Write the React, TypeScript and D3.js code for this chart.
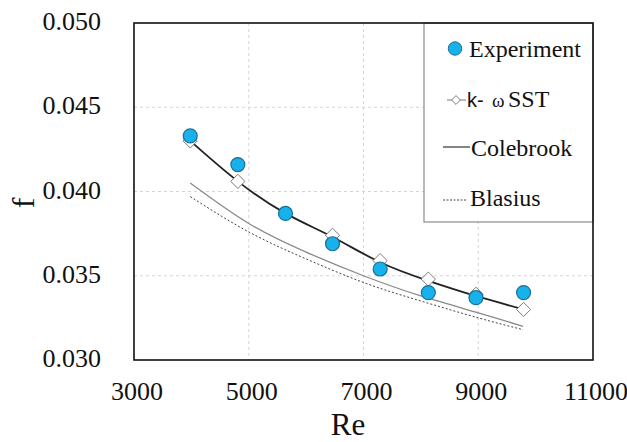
import React from "react";
import * as d3 from "d3";

// Reynolds numbers of the measured / simulated points
const reValues = [3980, 4810, 5640, 6460, 7290, 8130, 8960, 9790];
// Friction factor, experiment
const experiment = [0.0433, 0.0416, 0.0387, 0.0369, 0.0354, 0.034, 0.0337, 0.034];
// Friction factor, k-ω SST simulation
const sst = [0.043, 0.0406, 0.0387, 0.0374, 0.0359, 0.0348, 0.0339, 0.033];
// Smooth trend through the k-ω SST results
const sstFit = [0.043, 0.0406, 0.0387, 0.0373, 0.0358, 0.0347, 0.0338, 0.033];

// Correlations
const corrRe = [3980, 5000, 6000, 7000, 8000, 9000, 9780];
const colebrook = [0.0405, 0.0381, 0.0364, 0.035, 0.0338, 0.0328, 0.032];
const blasius = [0.0397, 0.0376, 0.036, 0.0346, 0.0335, 0.0325, 0.0318];

const xTicks = [3000, 5000, 7000, 9000, 11000];
const yTicks = [0.03, 0.035, 0.04, 0.045, 0.05];

const W = 627;
const H = 442;
const plot = { left: 134, top: 23, right: 593, bottom: 360 };
const serif = "Liberation Serif";
const sans = "Liberation Sans";

export default function App() {
  const x = d3.scaleLinear().domain([3000, 11000]).range([plot.left, plot.right]);
  const y = d3.scaleLinear().domain([0.03, 0.05]).range([plot.bottom, plot.top]);

  const smooth = d3
    .line<[number, number]>()
    .x((d) => x(d[0]))
    .y((d) => y(d[1]))
    .curve(d3.curveNatural);

  const fitPath = smooth(reValues.map((r, i) => [r, sstFit[i]]) as [number, number][]) || "";
  const colePath = smooth(corrRe.map((r, i) => [r, colebrook[i]]) as [number, number][]) || "";
  const blasPath = smooth(corrRe.map((r, i) => [r, blasius[i]]) as [number, number][]) || "";

  const diamond = d3.symbol().type(d3.symbolDiamond2).size(128)() || "";
  const legendDiamond = d3.symbol().type(d3.symbolDiamond2).size(50)() || "";

  const gridColor = "#d4d4d4";
  const circleFill = "#17b1ec";
  const circleStroke = "#1c6f96";

  const legendX = 424;

  return (
    <svg width={W} height={H} style={{ position: "absolute", left: 0, top: 0, background: "#fff" }}>
      <rect x={0} y={0} width={W} height={H} fill="#fff" />

      {/* grid */}
      {xTicks
        .filter((t) => t > 3000 && t < 11000)
        .map((t) => (
          <line
            key={"gx" + t}
            x1={x(t)}
            x2={x(t)}
            y1={plot.top}
            y2={plot.bottom}
            stroke={gridColor}
            strokeWidth={1}
            strokeDasharray="3,3"
          />
        ))}
      {yTicks
        .filter((t) => t > 0.03 && t < 0.05)
        .map((t) => (
          <line
            key={"gy" + t}
            x1={plot.left}
            x2={plot.right}
            y1={y(t)}
            y2={y(t)}
            stroke={gridColor}
            strokeWidth={1}
            strokeDasharray="3,3"
          />
        ))}

      {/* correlations */}
      <path d={colePath} fill="none" stroke="#8a8a8a" strokeWidth={1.3} />
      <path d={blasPath} fill="none" stroke="#444" strokeWidth={1} strokeDasharray="2,2" />

      {/* k-ω SST trend and points */}
      <path d={fitPath} fill="none" stroke="#222" strokeWidth={1.8} />
      {reValues.map((r, i) => (
        <path
          key={"d" + i}
          d={diamond}
          transform={`translate(${x(r)},${y(sst[i])})`}
          fill="#fff"
          stroke="#7a7a7a"
          strokeWidth={1}
        />
      ))}

      {/* experiment */}
      {reValues.map((r, i) => (
        <circle
          key={"c" + i}
          cx={x(r)}
          cy={y(experiment[i])}
          r={7}
          fill={circleFill}
          stroke={circleStroke}
          strokeWidth={1.2}
        />
      ))}

      {/* legend */}
      <rect
        x={legendX}
        y={plot.top}
        width={plot.right - legendX}
        height={222 - plot.top}
        fill="#fff"
        stroke="#8a8a8a"
        strokeWidth={1.2}
      />
      <circle cx={455} cy={48.5} r={6.7} fill={circleFill} stroke={circleStroke} strokeWidth={1} />
      <text x={469} y={57} fontFamily={serif} fontSize={24} fill="#111">
        Experiment
      </text>

      <line x1={447} x2={466} y1={100} y2={100} stroke="#7a7a7a" strokeWidth={1} />
      <path d={legendDiamond} transform="translate(456,100)" fill="#fff" stroke="#7a7a7a" strokeWidth={1} />
      <text y={107} fill="#111">
        <tspan x={467} fontFamily={sans} fontSize={20}>k-</tspan>
        <tspan x={492} fontFamily={serif} fontSize={19}>ω</tspan>
        <tspan x={508} fontFamily={serif} fontSize={24}>SST</tspan>
      </text>

      <line x1={443} x2={470} y1={147} y2={147} stroke="#333" strokeWidth={1.2} />
      <text x={471} y={156} fontFamily={serif} fontSize={24} fill="#111">
        Colebrook
      </text>

      <line x1={443} x2={467} y1={200} y2={200} stroke="#444" strokeWidth={1} strokeDasharray="2,1.5" />
      <text x={470} y={206} fontFamily={serif} fontSize={24} fill="#111">
        Blasius
      </text>

      {/* frame */}
      <rect
        x={plot.left}
        y={plot.top}
        width={plot.right - plot.left}
        height={plot.bottom - plot.top}
        fill="none"
        stroke="#111"
        strokeWidth={1.6}
      />

      {/* tick labels */}
      {xTicks.map((t) => (
        <text
          key={"tx" + t}
          x={x(t) + 3}
          y={400}
          textAnchor="middle"
          fontFamily={serif}
          fontSize={26}
          fill="#111"
        >
          {t}
        </text>
      ))}
      {yTicks.map((t) => (
        <text
          key={"ty" + t}
          x={101}
          y={y(t) + 7}
          textAnchor="end"
          fontFamily={serif}
          fontSize={26}
          fill="#111"
        >
          {t.toFixed(3)}
        </text>
      ))}

      {/* axis titles */}
      <text x={348} y={435} textAnchor="middle" fontFamily={serif} fontSize={31} fill="#111">
        Re
      </text>
      <text
        transform="translate(34,203) rotate(-90)"
        textAnchor="middle"
        fontFamily={serif}
        fontSize={32}
        fill="#111"
      >
        f
      </text>
    </svg>
  );
}
